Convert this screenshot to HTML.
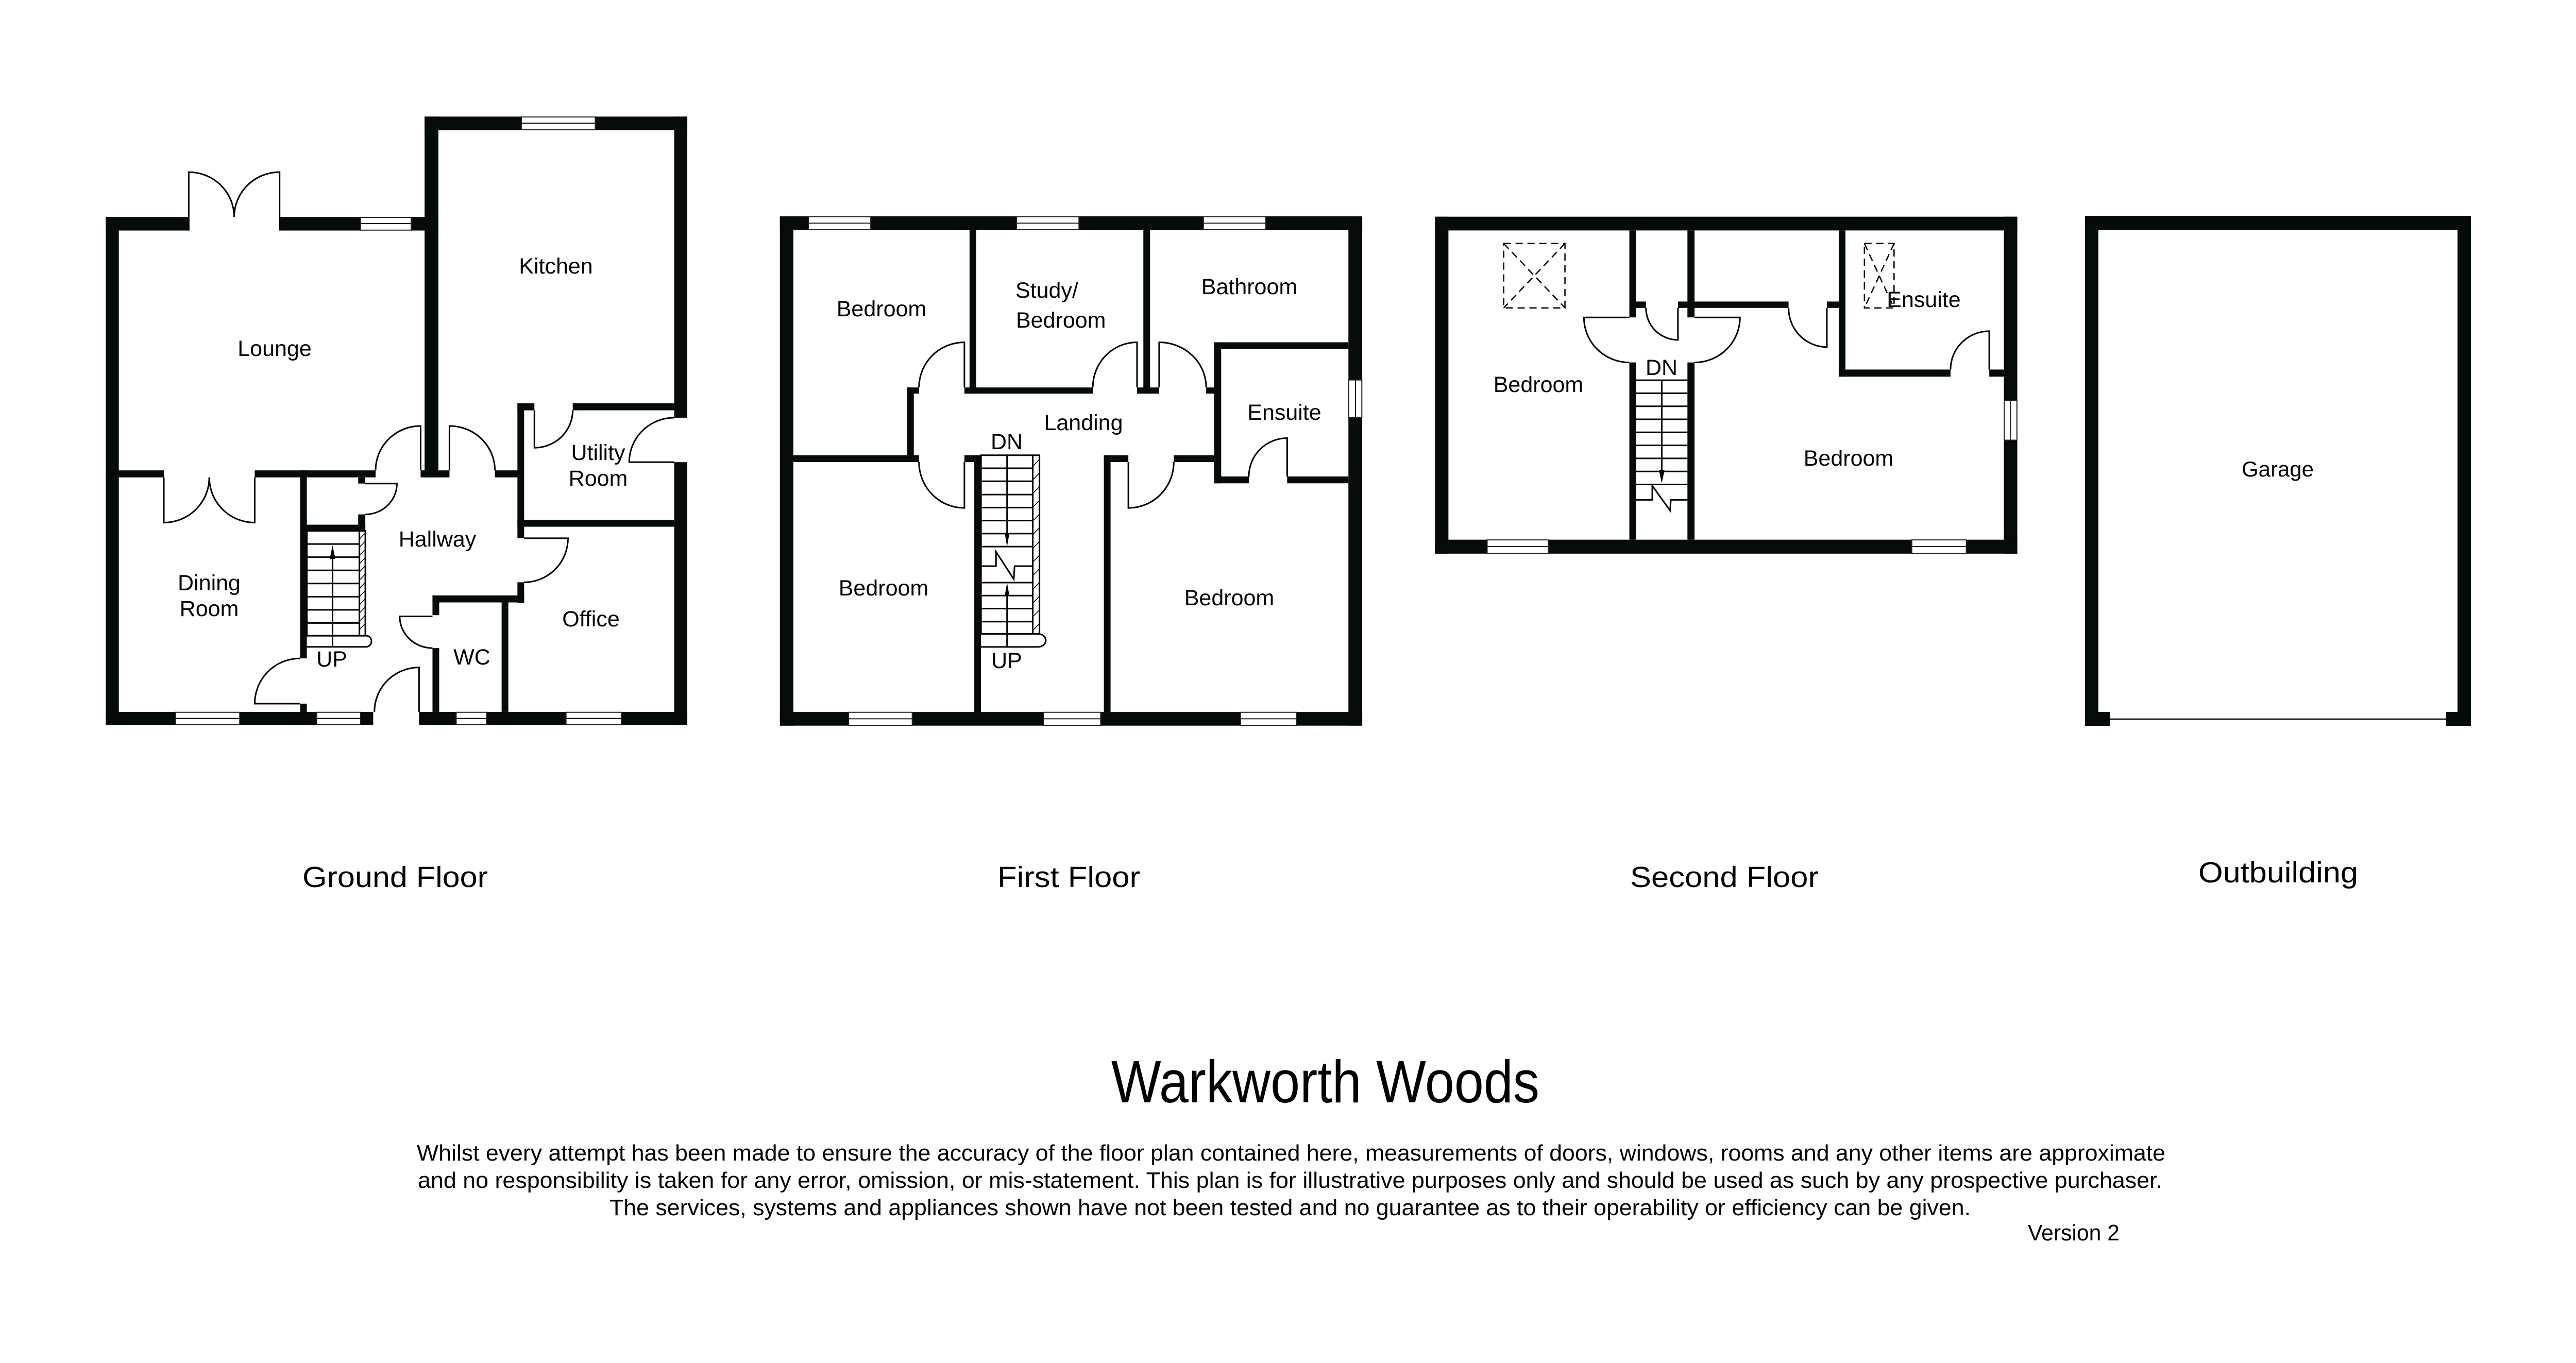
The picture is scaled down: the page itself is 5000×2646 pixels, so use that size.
<!DOCTYPE html>
<html><head><meta charset="utf-8"><style>
html,body{margin:0;padding:0;background:#fff}
svg{display:block}
text{font-family:"Liberation Sans",Arial,sans-serif;fill:#000}
.w{fill:#050a0a}
.t{fill:none;stroke:#000;stroke-width:3}
.win{fill:#fff;stroke:#222;stroke-width:2}
.dash{fill:none;stroke:#000;stroke-width:2.5;stroke-dasharray:14 9}
</style></head><body>
<svg width="5000" height="2646" viewBox="0 0 5000 2646" xmlns="http://www.w3.org/2000/svg">
<rect width="5000" height="2646" fill="#fff"/>

<!-- ================= GROUND FLOOR ================= -->
<g transform="translate(180,200) scale(0.7668,0.7986)">
 <g class="w">
  <rect x="33" y="277" width="33" height="1235"/>
  <rect x="33" y="277" width="210" height="33"/>
  <rect x="473" y="277" width="205" height="33"/>
  <rect x="806" y="277" width="69" height="33"/>
  <rect x="840" y="33" width="35" height="877"/>
  <rect x="840" y="33" width="245" height="33"/>
  <rect x="1272" y="33" width="233" height="33"/>
  <rect x="1472" y="33" width="33" height="732"/>
  <rect x="1472" y="873" width="33" height="639"/>
  <rect x="33" y="1480" width="177" height="32"/>
  <rect x="372" y="1480" width="195" height="32"/>
  <rect x="678" y="1480" width="32" height="32"/>
  <rect x="826" y="1480" width="94" height="32"/>
  <rect x="997" y="1480" width="201" height="32"/>
  <rect x="1338" y="1480" width="167" height="32"/>
  <rect x="33" y="893" width="147" height="17"/>
  <rect x="410" y="893" width="306" height="17"/>
  <rect x="830" y="893" width="73" height="17"/>
  <rect x="1018" y="893" width="72" height="17"/>
  <rect x="1075" y="730" width="17" height="328"/>
  <rect x="1075" y="1165" width="17" height="50"/>
  <rect x="1075" y="730" width="43" height="17"/>
  <rect x="1215" y="730" width="257" height="17"/>
  <rect x="1075" y="1013" width="397" height="17"/>
  <rect x="860" y="1197" width="232" height="17"/>
  <rect x="1035" y="1197" width="17" height="283"/>
  <rect x="860" y="1197" width="17" height="48"/>
  <rect x="860" y="1325" width="17" height="155"/>
  <rect x="525" y="893" width="17" height="457"/>
  <rect x="525" y="1460" width="17" height="20"/>
  <rect x="525" y="1025" width="165" height="15"/>
  <rect x="672" y="910" width="18" height="15"/>
  <rect x="672" y="1000" width="18" height="40"/>
 </g>
 <g>
  <rect class="win" x="678" y="278" width="128" height="31" vector-effect="non-scaling-stroke"/><line x1="678" y1="293" x2="806" y2="293" class="t" style="stroke-width:2" vector-effect="non-scaling-stroke"/>
  <rect class="win" x="1085" y="34" width="187" height="31" vector-effect="non-scaling-stroke"/><line x1="1085" y1="49" x2="1272" y2="49" class="t" style="stroke-width:2" vector-effect="non-scaling-stroke"/>
  <rect class="win" x="210" y="1481" width="162" height="30" vector-effect="non-scaling-stroke"/><line x1="210" y1="1496" x2="372" y2="1496" class="t" style="stroke-width:2" vector-effect="non-scaling-stroke"/>
  <rect class="win" x="567" y="1481" width="111" height="30" vector-effect="non-scaling-stroke"/><line x1="567" y1="1496" x2="678" y2="1496" class="t" style="stroke-width:2" vector-effect="non-scaling-stroke"/>
  <rect class="win" x="920" y="1481" width="77" height="30" vector-effect="non-scaling-stroke"/><line x1="920" y1="1496" x2="997" y2="1496" class="t" style="stroke-width:2" vector-effect="non-scaling-stroke"/>
  <rect class="win" x="1198" y="1481" width="140" height="30" vector-effect="non-scaling-stroke"/><line x1="1198" y1="1496" x2="1338" y2="1496" class="t" style="stroke-width:2" vector-effect="non-scaling-stroke"/>
 </g>
 <g class="t">
  <path vector-effect="non-scaling-stroke" d="M243,310 V168 A115,109 0 0 1 358,277"/>
  <path vector-effect="non-scaling-stroke" d="M473,310 V168 A115,109 0 0 0 358,277"/>
  <path vector-effect="non-scaling-stroke" d="M180,910 V1020 A115,110 0 0 0 295,910"/>
  <path vector-effect="non-scaling-stroke" d="M410,910 V1020 A115,110 0 0 1 295,910"/>
  <path vector-effect="non-scaling-stroke" d="M830,893 V785 A114,108 0 0 0 716,893"/>
  <path vector-effect="non-scaling-stroke" d="M903,893 V785 A115,108 0 0 1 1018,893"/>
  <path vector-effect="non-scaling-stroke" d="M1118,747 V838 A97,91 0 0 0 1215,747"/>
  <path vector-effect="non-scaling-stroke" d="M1472,873 H1358 A114,108 0 0 1 1472,765"/>
  <path vector-effect="non-scaling-stroke" d="M1092,1058 H1203 A111,107 0 0 1 1092,1165"/>
  <path vector-effect="non-scaling-stroke" d="M690,925 H770 A80,75 0 0 1 690,1000"/>
  <path vector-effect="non-scaling-stroke" d="M860,1248 H777 A83,77 0 0 0 860,1325"/>
  <path vector-effect="non-scaling-stroke" d="M826,1480 V1372 A113,108 0 0 0 713,1480"/>
  <path vector-effect="non-scaling-stroke" d="M525,1460 H410 A115,110 0 0 1 525,1350"/>
  <rect vector-effect="non-scaling-stroke" x="542" y="1040" width="133" height="255"/>
  <path vector-effect="non-scaling-stroke" d="M542,1072H675M542,1104H675M542,1136H675M542,1168H675M542,1200H675M542,1232H675M542,1264H675"/>
  <rect vector-effect="non-scaling-stroke" x="675" y="1040" width="15" height="255"/>
  <path vector-effect="non-scaling-stroke" style="stroke-width:1.5" d="M675,1060L690,1045M675,1080L690,1065M675,1100L690,1085M675,1120L690,1105M675,1140L690,1125M675,1160L690,1145M675,1180L690,1165M675,1200L690,1185M675,1220L690,1205M675,1240L690,1225M675,1260L690,1245M675,1280L690,1265"/>
  <path vector-effect="non-scaling-stroke" d="M542,1295 H692 A13,13 0 0 1 692,1322 H542"/>
  <line vector-effect="non-scaling-stroke" x1="607" y1="1322" x2="607" y2="1090"/>
 </g>
 <polygon points="607,1075 600,1108 614,1108" fill="#000"/>
</g>
<g font-size="43" text-anchor="middle">
 <text x="1079" y="531">Kitchen</text>
 <text x="533" y="691">Lounge</text>
 <text x="1161" y="893">Utility</text>
 <text x="1161" y="943">Room</text>
 <text x="849" y="1061">Hallway</text>
 <text x="406" y="1146">Dining</text>
 <text x="406" y="1196">Room</text>
 <text x="1147" y="1216">Office</text>
 <text x="916" y="1290">WC</text>
 <text x="644" y="1294">UP</text>
</g>

<!-- ================= FIRST FLOOR ================= -->
<g transform="translate(1500,400) scale(0.7668,0.6645)">
 <g class="w">
  <rect x="18" y="30" width="1474" height="40"/>
  <rect x="18" y="30" width="34" height="1488"/>
  <rect x="1457" y="30" width="35" height="1488"/>
  <rect x="18" y="1478" width="1474" height="40"/>
  <rect x="498" y="70" width="17" height="478"/>
  <rect x="340" y="530" width="30" height="18"/>
  <rect x="340" y="530" width="17" height="218"/>
  <rect x="485" y="530" width="325" height="18"/>
  <rect x="922" y="530" width="56" height="18"/>
  <rect x="938" y="70" width="17" height="478"/>
  <rect x="1097" y="530" width="20" height="18"/>
  <rect x="1117" y="398" width="340" height="20"/>
  <rect x="1117" y="398" width="18" height="412"/>
  <rect x="1117" y="790" width="88" height="20"/>
  <rect x="1302" y="790" width="155" height="20"/>
  <rect x="52" y="728" width="318" height="20"/>
  <rect x="485" y="728" width="42" height="20"/>
  <rect x="510" y="728" width="17" height="750"/>
  <rect x="838" y="728" width="62" height="20"/>
  <rect x="1015" y="728" width="102" height="20"/>
  <rect x="838" y="728" width="17" height="750"/>
 </g>
 <g>
  <rect class="win" x="90" y="31" width="158" height="38" vector-effect="non-scaling-stroke"/><line x1="90" y1="50" x2="248" y2="50" stroke="#222" stroke-width="2" vector-effect="non-scaling-stroke"/>
  <rect class="win" x="617" y="31" width="158" height="38" vector-effect="non-scaling-stroke"/><line x1="617" y1="50" x2="775" y2="50" stroke="#222" stroke-width="2" vector-effect="non-scaling-stroke"/>
  <rect class="win" x="1090" y="31" width="158" height="38" vector-effect="non-scaling-stroke"/><line x1="1090" y1="50" x2="1248" y2="50" stroke="#222" stroke-width="2" vector-effect="non-scaling-stroke"/>
  <rect class="win" x="192" y="1479" width="161" height="38" vector-effect="non-scaling-stroke"/><line x1="192" y1="1498" x2="353" y2="1498" stroke="#222" stroke-width="2" vector-effect="non-scaling-stroke"/>
  <rect class="win" x="685" y="1479" width="145" height="38" vector-effect="non-scaling-stroke"/><line x1="685" y1="1498" x2="830" y2="1498" stroke="#222" stroke-width="2" vector-effect="non-scaling-stroke"/>
  <rect class="win" x="1184" y="1479" width="141" height="38" vector-effect="non-scaling-stroke"/><line x1="1184" y1="1498" x2="1325" y2="1498" stroke="#222" stroke-width="2" vector-effect="non-scaling-stroke"/>
  <rect class="win" x="1458" y="508" width="33" height="110" vector-effect="non-scaling-stroke"/><line x1="1475" y1="508" x2="1475" y2="618" stroke="#222" stroke-width="2" vector-effect="non-scaling-stroke"/>
 </g>
 <g class="t">
  <path vector-effect="non-scaling-stroke" d="M485,530 V398 A115,132 0 0 0 370,530"/>
  <path vector-effect="non-scaling-stroke" d="M922,530 V398 A112,132 0 0 0 810,530"/>
  <path vector-effect="non-scaling-stroke" d="M978,530 V398 A119,132 0 0 1 1097,530"/>
  <path vector-effect="non-scaling-stroke" d="M1302,790 V678 A97,112 0 0 0 1205,790"/>
  <path vector-effect="non-scaling-stroke" d="M485,748 V882 A115,134 0 0 1 370,748"/>
  <path vector-effect="non-scaling-stroke" d="M900,748 V882 A115,134 0 0 0 1015,748"/>
  <rect vector-effect="non-scaling-stroke" x="527" y="728" width="131" height="522"/>
  <path vector-effect="non-scaling-stroke" d="M527,766H658M527,804H658M527,843H658M527,881H658M527,919H658M527,957H658M527,995H658M527,1100H658M527,1138H658M527,1176H658M527,1214H658"/>
  <rect vector-effect="non-scaling-stroke" x="658" y="728" width="17" height="522"/>
  <path vector-effect="non-scaling-stroke" style="stroke-width:1.5" d="M658,760L675,740M658,800L675,780M658,840L675,820M658,880L675,860M658,920L675,900M658,960L675,940M658,1000L675,980M658,1040L675,1020M658,1080L675,1060M658,1120L675,1100M658,1160L675,1140M658,1200L675,1180M658,1240L675,1220"/>
  <path vector-effect="non-scaling-stroke" d="M527,1250 H672 A19,19 0 0 1 672,1288 H527"/>
  <line vector-effect="non-scaling-stroke" x1="593" y1="728" x2="593" y2="980"/>
  <line vector-effect="non-scaling-stroke" x1="593" y1="1115" x2="593" y2="1288"/>
  <path vector-effect="non-scaling-stroke" d="M527,1052 H565 V1010 L610,1090 L612,1052 H658" fill="#fff"/>
 </g>
 <polygon points="593,995 587,955 599,955" fill="#000"/>
 <polygon points="593,1100 587,1140 599,1140" fill="#000"/>
</g>
<g font-size="43" text-anchor="middle">
 <text x="1711" y="614">Bedroom</text>
 <text x="1971" y="578" text-anchor="start">Study/</text>
 <text x="1972" y="636" text-anchor="start">Bedroom</text>
 <text x="2425" y="571">Bathroom</text>
 <text x="2493" y="815">Ensuite</text>
 <text x="2103" y="835">Landing</text>
 <text x="1954" y="872">DN</text>
 <text x="1715" y="1156">Bedroom</text>
 <text x="1954" y="1297">UP</text>
 <text x="2386" y="1175">Bedroom</text>
</g>

<!-- ================= SECOND FLOOR ================= -->
<g transform="translate(2760,400) scale(0.7668,0.46)">
 <g class="w">
  <rect x="33" y="45" width="1474" height="58"/>
  <rect x="33" y="45" width="34" height="1422"/>
  <rect x="1473" y="45" width="34" height="1422"/>
  <rect x="33" y="1408" width="1474" height="59"/>
  <rect x="525" y="103" width="17" height="367"/>
  <rect x="525" y="660" width="17" height="748"/>
  <rect x="672" y="103" width="18" height="367"/>
  <rect x="672" y="660" width="18" height="748"/>
  <rect x="525" y="403" width="42" height="27"/>
  <rect x="648" y="403" width="42" height="27"/>
  <rect x="690" y="403" width="238" height="27"/>
  <rect x="1025" y="403" width="30" height="27"/>
  <rect x="1055" y="103" width="17" height="617"/>
  <rect x="1055" y="690" width="283" height="30"/>
  <rect x="1436" y="690" width="37" height="30"/>
 </g>
 <g>
  <rect class="win" x="165" y="1409" width="155" height="57" vector-effect="non-scaling-stroke"/><line x1="165" y1="1437" x2="320" y2="1437" stroke="#222" stroke-width="2" vector-effect="non-scaling-stroke"/>
  <rect class="win" x="1240" y="1409" width="138" height="57" vector-effect="non-scaling-stroke"/><line x1="1240" y1="1437" x2="1378" y2="1437" stroke="#222" stroke-width="2" vector-effect="non-scaling-stroke"/>
  <rect class="win" x="1474" y="820" width="32" height="168" vector-effect="non-scaling-stroke"/><line x1="1490" y1="820" x2="1490" y2="988" stroke="#222" stroke-width="2" vector-effect="non-scaling-stroke"/>
 </g>
 <g class="t">
  <path vector-effect="non-scaling-stroke" d="M525,470 H410 A115,190 0 0 0 525,660"/>
  <path vector-effect="non-scaling-stroke" d="M690,470 H805 A115,190 0 0 1 690,660"/>
  <path vector-effect="non-scaling-stroke" d="M648,430 V565 A81,135 0 0 1 567,430"/>
  <path vector-effect="non-scaling-stroke" d="M1025,430 V595 A97,165 0 0 1 928,430"/>
  <path vector-effect="non-scaling-stroke" d="M1436,690 V528 A98,162 0 0 0 1338,690"/>
  <path vector-effect="non-scaling-stroke" d="M542,735H672M542,790H672M542,845H672M542,900H672M542,955H672M542,1010H672M542,1065H672M542,1120H672M542,1175H672"/>
  <line vector-effect="non-scaling-stroke" x1="607" y1="735" x2="607" y2="1140"/>
  <path vector-effect="non-scaling-stroke" d="M542,1240 H583 V1180 L628,1285 L630,1240 H672"/>
 </g>
 <polygon points="607,1170 600,1115 614,1115" fill="#000"/>
 <g class="dash">
  <rect vector-effect="non-scaling-stroke" x="207" y="158" width="155" height="272"/>
  <path vector-effect="non-scaling-stroke" d="M207,158 L362,430 M362,158 L207,430"/>
  <rect vector-effect="non-scaling-stroke" x="1120" y="158" width="75" height="272"/>
  <path vector-effect="non-scaling-stroke" d="M1120,158 L1195,430 M1195,158 L1120,430"/>
 </g>
</g>
<g font-size="43" text-anchor="middle">
 <text x="2986" y="761">Bedroom</text>
 <text x="3588" y="904">Bedroom</text>
 <text x="3734" y="596">Ensuite</text>
 <text x="3225" y="728">DN</text>
</g>

<!-- ================= GARAGE ================= -->
<g class="w">
 <rect x="4047" y="419" width="749" height="27"/>
 <rect x="4047" y="419" width="26" height="990"/>
 <rect x="4770" y="419" width="26" height="990"/>
 <rect x="4047" y="1382" width="48" height="27"/>
 <rect x="4748" y="1382" width="48" height="27"/>
</g>
<line x1="4095" y1="1396" x2="4748" y2="1396" stroke="#000" stroke-width="2.5"/>
<text x="4421" y="925" font-size="42" text-anchor="middle">Garage</text>

<!-- ================= CAPTIONS ================= -->
<g font-size="57">
 <text x="587" y="1722" textLength="360" lengthAdjust="spacingAndGlyphs">Ground Floor</text>
 <text x="1936" y="1722" textLength="277" lengthAdjust="spacingAndGlyphs">First Floor</text>
 <text x="3164" y="1722" textLength="366" lengthAdjust="spacingAndGlyphs">Second Floor</text>
 <text x="4267" y="1713" textLength="310" lengthAdjust="spacingAndGlyphs">Outbuilding</text>
</g>
<text x="2157" y="2140" font-size="116" textLength="831" lengthAdjust="spacingAndGlyphs">Warkworth Woods</text>
<g font-size="44">
 <text x="809" y="2253" textLength="3394" lengthAdjust="spacingAndGlyphs">Whilst every attempt has been made to ensure the accuracy of the floor plan contained here, measurements of doors, windows, rooms and any other items are approximate</text>
 <text x="811" y="2306" textLength="3386" lengthAdjust="spacingAndGlyphs">and no responsibility is taken for any error, omission, or mis-statement. This plan is for illustrative purposes only and should be used as such by any prospective purchaser.</text>
 <text x="1183" y="2359" textLength="2642" lengthAdjust="spacingAndGlyphs">The services, systems and appliances shown have not been tested and no guarantee as to their operability or efficiency can be given.</text>
 <text x="3936" y="2408" textLength="178" lengthAdjust="spacingAndGlyphs">Version 2</text>
</g>
</svg>
</body></html>
